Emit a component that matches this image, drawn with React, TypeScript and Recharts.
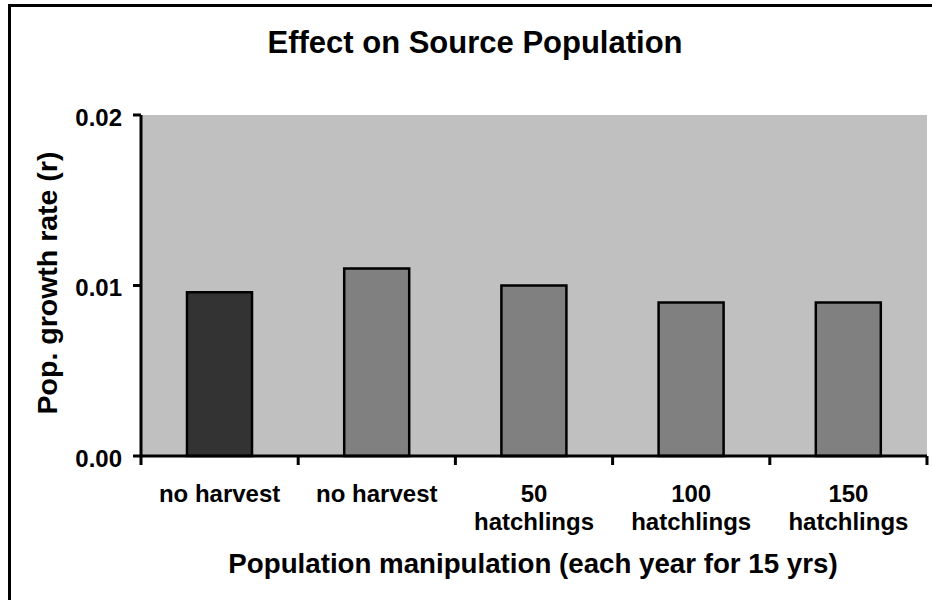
import { BarChart, Bar, XAxis, YAxis, CartesianGrid, Cell } from 'recharts';

// categorias (lineas de cada etiqueta) y valores
const categoryLines = [
  ['no harvest'],
  ['no harvest'],
  ['50', 'hatchlings'],
  ['100', 'hatchlings'],
  ['150', 'hatchlings'],
];
const growthRates = [0.0096, 0.011, 0.01, 0.009, 0.009];
const barColors = ['#333333', '#808080', '#808080', '#808080', '#808080'];
const yTicks = [0, 0.01, 0.02];

const data = categoryLines.map((lines, i) => ({
  key: `c${i}`,
  r: growthRates[i],
}));

const W = 932;
const H = 600;
const PLOT_LEFT = 141;
const PLOT_RIGHT = 927;
const PLOT_TOP = 115;
const PLOT_BOTTOM = 456;
const Y_AXIS_W = 60;
const X_AXIS_H = 90;
const FONT = '"Liberation Sans", Arial, sans-serif';

const band = (PLOT_RIGHT - PLOT_LEFT) / categoryLines.length;

const CategoryTick = (props: any) => {
  const { x, y, index } = props;
  const lines = categoryLines[index] || [];
  const left = x - band / 2;
  return (
    <g>
      <line x1={left} y1={y} x2={left} y2={y + 9} stroke="#000" strokeWidth={3} />
      {index === categoryLines.length - 1 && (
        <line x1={left + band} y1={y} x2={left + band} y2={y + 9} stroke="#000" strokeWidth={3} />
      )}
      {lines.map((t: string, i: number) => (
        <text
          key={i}
          x={x}
          y={y + 46 + i * 28}
          textAnchor="middle"
          fontFamily={FONT}
          fontWeight="bold"
          fontSize={24}
          fill="#000"
        >
          {t}
        </text>
      ))}
    </g>
  );
};

const App = () => {
  return (
    <div style={{ position: 'absolute', left: 0, top: 0, width: W, height: H, overflow: 'hidden', background: '#fff' }}>
      {/* marco exterior (se sale por derecha y abajo) */}
      <div
        style={{
          position: 'absolute',
          left: 8,
          top: 4,
          width: W + 20,
          height: H + 20,
          borderLeft: '3px solid #000',
          borderTop: '3px solid #000',
        }}
      />
      <div style={{ position: 'absolute', left: 0, top: 0 }}>
        <BarChart
          width={W}
          height={H}
          data={data}
          margin={{ top: PLOT_TOP, right: W - PLOT_RIGHT, left: PLOT_LEFT - Y_AXIS_W, bottom: H - PLOT_BOTTOM - X_AXIS_H }}
        >
          <CartesianGrid fill="#C0C0C0" horizontal={false} vertical={false} />
          <XAxis
            dataKey="key"
            type="category"
            height={X_AXIS_H}
            axisLine={{ stroke: '#000', strokeWidth: 3 }}
            tickLine={false}
            tickSize={0}
            tickMargin={0}
            interval={0}
            tick={<CategoryTick />}
          />
          <YAxis
            width={Y_AXIS_W}
            domain={[0, 0.02]}
            ticks={yTicks}
            interval={0}
            tickFormatter={(v: number) => v.toFixed(2)}
            axisLine={{ stroke: '#000', strokeWidth: 3 }}
            tickLine={{ stroke: '#000', strokeWidth: 3 }}
            tickSize={8}
            tickMargin={11}
            tick={{ fill: '#000', fontSize: 24, fontWeight: 'bold', fontFamily: FONT, dy: 2 }}
          />
          <Bar dataKey="r" barSize={65} stroke="#000" strokeWidth={2.5} isAnimationActive={false}>
            {data.map((d, i) => (
              <Cell key={d.key} fill={barColors[i]} />
            ))}
          </Bar>
        </BarChart>
      </div>
      {/* titulos */}
      <svg width={W} height={H} style={{ position: 'absolute', left: 0, top: 0, pointerEvents: 'none' }}>
        <text x={475} y={53} textAnchor="middle" fontFamily={FONT} fontWeight="bold" fontSize={31} fill="#000">
          Effect on Source Population
        </text>
        <text x={533} y={573} textAnchor="middle" fontFamily={FONT} fontWeight="bold" fontSize={27.7} fill="#000">
          Population manipulation (each year for 15 yrs)
        </text>
        <text
          x={57}
          y={283}
          transform="rotate(-90 57 283)"
          textAnchor="middle"
          fontFamily={FONT}
          fontWeight="bold"
          fontSize={28.5}
          fill="#000"
        >
          Pop. growth rate (r)
        </text>
      </svg>
    </div>
  );
};

export default App;
